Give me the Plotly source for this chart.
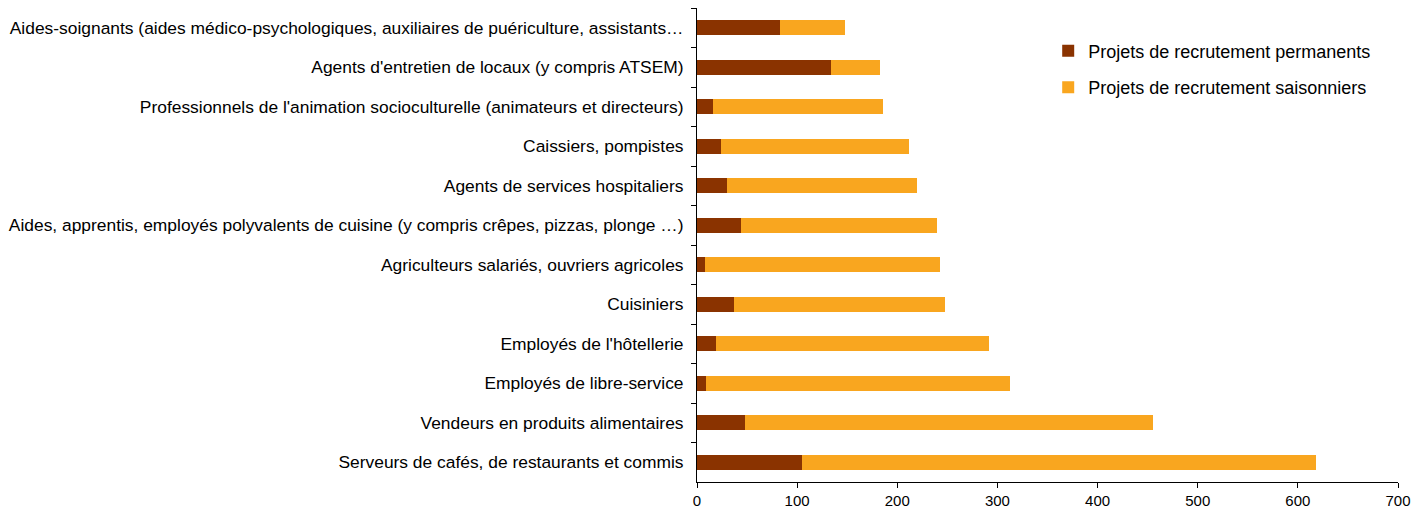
import plotly.graph_objects as go

categories = [
    "Aides-soignants (aides médico-psychologiques, auxiliaires de puériculture, assistants…",
    "Agents d'entretien de locaux (y compris ATSEM)",
    "Professionnels de l'animation socioculturelle (animateurs et directeurs)",
    "Caissiers, pompistes",
    "Agents de services hospitaliers",
    "Aides, apprentis, employés polyvalents de cuisine (y compris crêpes, pizzas, plonge …)",
    "Agriculteurs salariés, ouvriers agricoles",
    "Cuisiniers",
    "Employés de l'hôtellerie",
    "Employés de libre-service",
    "Vendeurs en produits alimentaires",
    "Serveurs de cafés, de restaurants et commis",
]
permanents = [83, 134, 16, 24, 30, 44, 8, 37, 19, 9, 48, 105]
saisonniers = [65, 49, 170, 188, 190, 196, 235, 211, 273, 304, 407, 513]
x_ticks = [0, 100, 200, 300, 400, 500, 600, 700]

DARK = "#8A3300"
ORANGE = "#F9A61F"
FONT = "Liberation Sans, Arial, sans-serif"

fig = go.Figure()
fig.add_trace(go.Bar(
    y=categories, x=permanents, orientation="h",
    name="Projets de recrutement permanents", legendgroup="a",
    marker=dict(color=DARK, line=dict(width=0)), width=0.39,
))
fig.add_trace(go.Bar(
    y=categories, x=saisonniers, orientation="h",
    name="Projets de recrutement saisonniers", legendgroup="b",
    marker=dict(color=ORANGE, line=dict(width=0)), width=0.39,
))

fig.update_layout(
    barmode="stack",
    width=1424, height=510,
    margin=dict(l=689, r=34, t=0, b=36, pad=0),
    paper_bgcolor="white", plot_bgcolor="white",
    font=dict(family=FONT, size=17.4, color="#000000"),
    showlegend=True,
    legend=dict(
        x=0.501, y=0.948, xanchor="left", yanchor="top",
        font=dict(family=FONT, size=18, color="#000000"),
        bgcolor="rgba(0,0,0,0)", tracegroupgap=10, traceorder="grouped",
        itemwidth=30,
    ),
    xaxis=dict(
        range=[0, 700], tickvals=x_ticks, ticks="outside", ticklen=5,
        tickcolor="#000000", showline=True, linecolor="#000000", linewidth=1,
        showgrid=False, zeroline=False, tickfont=dict(size=15), automargin=False,
    ),
    yaxis=dict(
        categoryorder="array", categoryarray=categories,
        range=[11.5, -0.5], ticks="outside", ticklen=5, tickson="boundaries",
        tickcolor="#000000", showline=True, linecolor="#000000", linewidth=1,
        showgrid=False, zeroline=False, tickfont=dict(size=17.4), ticklabelstandoff=9,
        automargin=False,
    ),
)

fig.write_html("out.html")
